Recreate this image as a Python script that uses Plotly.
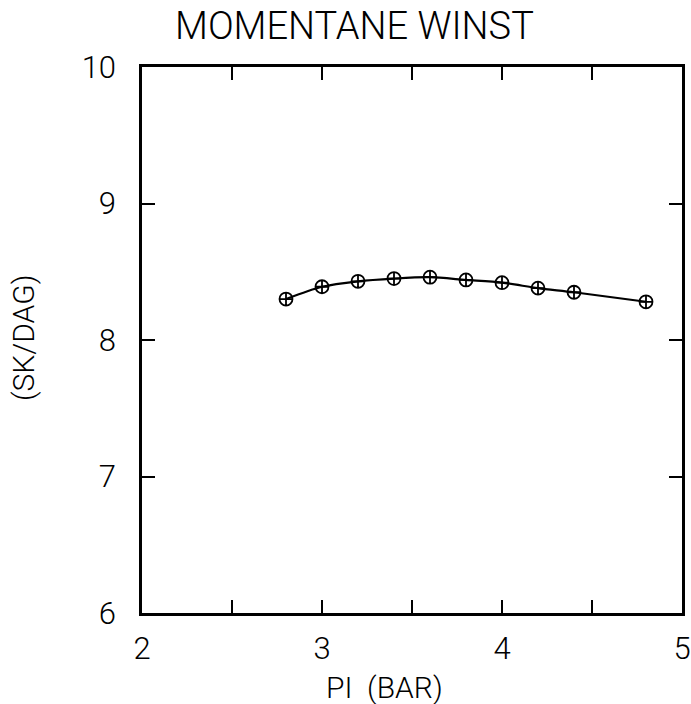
import plotly.graph_objects as go

# Data
pi_bar = [2.8, 3.0, 3.2, 3.4, 3.6, 3.8, 4.0, 4.2, 4.4, 4.8]
winst = [8.30, 8.39, 8.43, 8.45, 8.46, 8.44, 8.42, 8.38, 8.35, 8.28]

x_ticks = [2, 3, 4, 5]
x_ticklabels = ["2", "3", "4", "5"]
y_ticks = [6, 7, 8, 9, 10]
y_ticklabels = ["6", "7", "8", "9", "10"]

title_text = "MOMENTANE WINST"
x_title = "PI  (BAR)"
y_title = "(SK/DAG)"

FONT = "Roboto"

fig = go.Figure()
fig.add_trace(go.Scatter(
    x=pi_bar, y=winst,
    mode="lines+markers",
    line=dict(color="black", width=2.2, shape="spline", smoothing=0.8),
    marker=dict(symbol="circle-cross-open", size=13, color="black",
                line=dict(color="black", width=1.8)),
    showlegend=False,
    cliponaxis=False,
))

axis_common = dict(
    showline=True, linecolor="black", linewidth=2.5, mirror="ticks",
    showgrid=False, zeroline=False, automargin=False,
    ticks="inside", ticklen=13, tickwidth=1.5, tickcolor="black",
    tickfont=dict(family=FONT, size=31, color="black", weight=300),
)

fig.update_layout(
    width=691, height=704,
    margin=dict(l=142, r=9, t=67, b=91, autoexpand=False),
    paper_bgcolor="white", plot_bgcolor="white",
    xaxis=dict(
        range=[2, 5], tickvals=x_ticks, ticktext=x_ticklabels,
        minor=dict(dtick=0.5, tick0=2, ticks="inside", ticklen=13,
                   tickwidth=1.5, tickcolor="black"),
        ticklabelstandoff=6,
        **axis_common,
    ),
    yaxis=dict(
        range=[6, 10], tickvals=y_ticks, ticktext=y_ticklabels,
        ticklabelstandoff=17,
        **axis_common,
    ),
    annotations=[
        dict(text=title_text, xref="paper", yref="paper",
             x=(354 - 142) / 540, y=(613 - 26) / 546,
             xanchor="center", yanchor="middle", showarrow=False,
             font=dict(family=FONT, size=38, color="black", weight=300)),
        dict(text=x_title, xref="paper", yref="paper",
             x=(384 - 142) / 540, y=(613 - 687) / 546,
             xanchor="center", yanchor="middle", showarrow=False,
             font=dict(family=FONT, size=30, color="black", weight=300)),
        dict(text=y_title, xref="paper", yref="paper",
             x=(23 - 142) / 540, y=(613 - 338) / 546,
             xanchor="center", yanchor="middle", showarrow=False,
             textangle=-90,
             font=dict(family=FONT, size=30, color="black", weight=300)),
    ],
)

fig.write_html("out.html")
